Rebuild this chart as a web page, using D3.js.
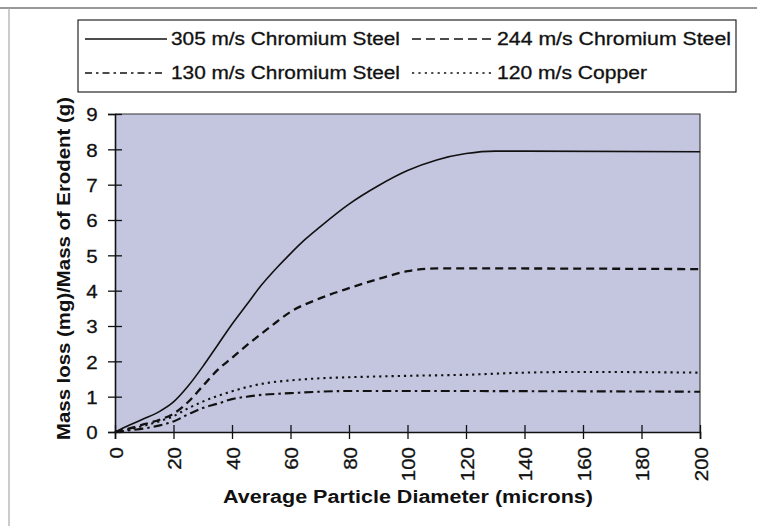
<!DOCTYPE html>
<html>
<head>
<meta charset="utf-8">
<script src="https://cdn.jsdelivr.net/npm/d3@7"></script>
<style>
  body { margin: 0; background: #fff; }
  svg { display: block; }
  text { font-family: "Liberation Sans", Arial, Helvetica, sans-serif; fill: #111; }
  .reg { stroke: #111; stroke-width: 0.3px; }
</style>
</head>
<body>
<svg id="chart" width="757" height="526"></svg>
<script>
// Erosion mass loss versus average particle diameter
const xTicks = [0, 20, 40, 60, 80, 100, 120, 140, 160, 180, 200];
const yTicks = [0, 1, 2, 3, 4, 5, 6, 7, 8, 9];

const seriesNames = ["305 m/s Chromium Steel", "244 m/s Chromium Steel",
                     "130 m/s Chromium Steel", "120 m/s Copper"];

// 305 m/s Chromium Steel
const x305 = [0, 5, 10, 15, 20, 25, 30, 35, 40, 45, 50, 55, 60, 65, 70, 80, 90, 100, 110, 120, 130, 140, 200];
const y305 = [0, 0.2, 0.38, 0.57, 0.85, 1.3, 1.85, 2.45, 3.05, 3.6, 4.15, 4.62, 5.05, 5.45, 5.8, 6.45, 6.97, 7.4, 7.7, 7.88, 7.95, 7.95, 7.93];

// 244 m/s Chromium Steel
const x244 = [0, 5, 10, 15, 20, 25, 30, 35, 40, 45, 50, 55, 60, 70, 80, 90, 100, 110, 120, 200];
const y244 = [0, 0.1, 0.22, 0.34, 0.52, 0.85, 1.3, 1.75, 2.1, 2.45, 2.78, 3.1, 3.4, 3.78, 4.07, 4.33, 4.55, 4.63, 4.63, 4.61];

// 130 m/s Chromium Steel
const x130 = [0, 5, 10, 15, 20, 25, 30, 35, 40, 45, 50, 60, 70, 80, 100, 200];
const y130 = [0, 0.05, 0.1, 0.18, 0.3, 0.5, 0.68, 0.8, 0.93, 1.0, 1.05, 1.1, 1.14, 1.16, 1.16, 1.14];

// 120 m/s Copper
const x120 = [0, 5, 10, 15, 20, 25, 30, 35, 40, 45, 50, 55, 60, 70, 80, 100, 120, 140, 160, 200];
const y120 = [0, 0.08, 0.18, 0.3, 0.45, 0.67, 0.86, 1.02, 1.15, 1.27, 1.36, 1.42, 1.46, 1.52, 1.55, 1.59, 1.62, 1.68, 1.7, 1.68];

const styles = [
  { dash: null,        width: 1.6 },
  { dash: "8,5",       width: 2.3 },
  { dash: "9,4,2.5,4", width: 2.1 },
  { dash: "2.2,4",     width: 2.1 }
];
const legendDash = [null, "9,5", "7,4,2.5,4", "2.2,4.2"];

const svg = d3.select("#chart");

// page frame
svg.append("line").attr("x1", 0).attr("x2", 757).attr("y1", 8).attr("y2", 8)
  .attr("stroke", "#333").attr("stroke-width", 1.2);
svg.append("line").attr("x1", 9).attr("x2", 9).attr("y1", 8).attr("y2", 526)
  .attr("stroke", "#aaa").attr("stroke-width", 1.2);

const x = d3.scaleLinear().domain([0, 200]).range([115, 700]);
const y = d3.scaleLinear().domain([0, 9]).range([432, 114]);

// plot area
svg.append("rect")
  .attr("x", x(0)).attr("y", y(9))
  .attr("width", x(200) - x(0)).attr("height", y(0) - y(9))
  .attr("fill", "#c4c6df");
svg.append("path")
  .attr("d", `M${x(0)},${y(9)}H${x(200)}V${y(0)}`)
  .attr("fill", "none").attr("stroke", "#333").attr("stroke-width", 1.1);

// data lines
const series = [
  x305.map((d, i) => [d, y305[i]]),
  x244.map((d, i) => [d, y244[i]]),
  x130.map((d, i) => [d, y130[i]]),
  x120.map((d, i) => [d, y120[i]])
];
const line = d3.line().x(d => x(d[0])).y(d => y(d[1])).curve(d3.curveMonotoneX);
series.forEach((s, i) => {
  svg.append("path")
    .datum(s)
    .attr("d", line)
    .attr("fill", "none")
    .attr("stroke", "#111")
    .attr("stroke-width", styles[i].width)
    .attr("stroke-dasharray", styles[i].dash)
    .attr("stroke-linecap", "butt");
});

// axes with ticks crossing the axis line
const yAxis = svg.append("g").attr("transform", `translate(${x(0)},0)`)
  .call(d3.axisLeft(y).tickValues(yTicks).tickSize(7).tickPadding(0).tickFormat(d3.format("d")));
yAxis.attr("font-size", null).attr("font-family", null);
yAxis.select(".domain").attr("stroke", "#111").attr("stroke-width", 1.6);
yAxis.selectAll(".tick line").attr("x1", -7).attr("x2", 7).attr("stroke", "#111").attr("stroke-width", 1.3);
yAxis.selectAll(".tick text")
  .attr("class", "reg")
  .attr("x", -16).attr("dy", "0.36em")
  .attr("text-anchor", "end")
  .style("font-size", "19px")
  .attr("transform", "scale(1.08,1)")
  .attr("fill", "#111");

const xAxis = svg.append("g").attr("transform", `translate(0,${y(0)})`)
  .call(d3.axisBottom(x).tickValues(xTicks).tickSize(7).tickPadding(0).tickFormat(d3.format("d")));
xAxis.attr("font-size", null).attr("font-family", null);
xAxis.select(".domain").attr("stroke", "#111").attr("stroke-width", 1.6);
xAxis.selectAll(".tick line").attr("y1", -7).attr("y2", 7).attr("stroke", "#111").attr("stroke-width", 1.3);
xAxis.selectAll(".tick text")
  .attr("class", "reg")
  .attr("x", 0).attr("y", 0).attr("dy", null)
  .attr("text-anchor", "end")
  .style("font-size", "19px")
  .attr("transform", "translate(7,15) rotate(-90) scale(1.08,1)")
  .attr("fill", "#111");

// axis titles
svg.append("text")
  .attr("transform", `translate(70,${(97 + 440) / 2}) rotate(-90)`)
  .attr("text-anchor", "middle")
  .style("font-size", "17.5px").attr("font-weight", "bold")
  .attr("textLength", 343).attr("lengthAdjust", "spacingAndGlyphs")
  .text("Mass loss (mg)/Mass of Erodent (g)");
svg.append("text")
  .attr("x", 408).attr("y", 503)
  .attr("text-anchor", "middle")
  .style("font-size", "17.5px").attr("font-weight", "bold")
  .attr("textLength", 370).attr("lengthAdjust", "spacingAndGlyphs")
  .text("Average Particle Diameter (microns)");

// legend
const lg = svg.append("g");
lg.append("rect").attr("x", 78).attr("y", 20).attr("width", 658).attr("height", 72)
  .attr("fill", "#fff").attr("stroke", "#111").attr("stroke-width", 1.1);
const legendPos = [
  { x1: 85,  x2: 167, tx: 171, ty: 45, tl: 229 },
  { x1: 412, x2: 494, tx: 497, ty: 45, tl: 234 },
  { x1: 85,  x2: 166, tx: 171, ty: 79, tl: 229 },
  { x1: 412, x2: 494, tx: 497, ty: 79, tl: 150 }
];
seriesNames.forEach((name, i) => {
  const p = legendPos[i];
  lg.append("line")
    .attr("x1", p.x1).attr("x2", p.x2).attr("y1", p.ty - 6).attr("y2", p.ty - 6)
    .attr("stroke", "#111").attr("stroke-width", 1.5)
    .attr("stroke-dasharray", legendDash[i]);
  lg.append("text")
    .attr("class", "reg")
    .attr("x", p.tx).attr("y", p.ty)
    .style("font-size", "17.5px")
    .attr("textLength", p.tl).attr("lengthAdjust", "spacingAndGlyphs")
    .text(name);
});
</script>
</body>
</html>
